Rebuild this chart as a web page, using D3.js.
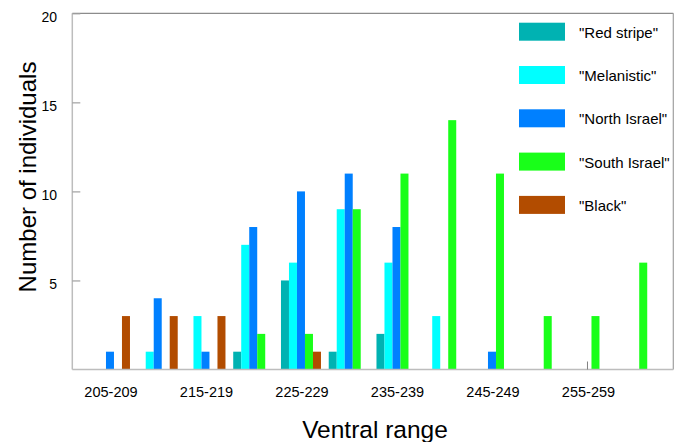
<!DOCTYPE html>
<html>
<head>
<meta charset="utf-8">
<script src="https://cdn.jsdelivr.net/npm/d3@7"></script>
<style>
	body { margin: 0; background: #FFFFFF; }
	text { font-family: "Liberation Sans", Arial, Helvetica, sans-serif; fill: #000000; }
</style>
</head>
<body>
<svg id="svgarea" width="681" height="442"></svg>
<script>
// ventral scale ranges (x categories)
const categories	= ['205-209', '210-214', '215-219', '220-224', '225-229', '230-234',
					   '235-239', '240-244', '245-249', '250-254', '255-259', '260-264'];
const seriesNames	= ['"Red stripe"', '"Melanistic"', '"North Israel"', '"South Israel"', '"Black"'];
const redStripe		= [0, 0, 0, 1, 5, 1, 2, 0, 0, 0, 0, 0];
const melanistic	= [0, 1, 3, 7, 6, 9, 6, 3, 0, 0, 0, 0];
const northIsrael	= [1, 4, 1, 8, 10, 11, 8, 0, 1, 0, 0, 0];
const southIsrael	= [0, 0, 0, 2, 2, 9, 11, 14, 11, 3, 3, 6];
const black			= [3, 3, 3, 0, 1, 0, 0, 0, 0, 0, 0, 0];
const xTickLabels	= ['205-209', '215-219', '225-229', '235-239', '245-249', '255-259'];
const yTicks		= [5, 10, 15, 20];
const colors		= ['#00B2B2', '#00FFFF', '#0080FF', '#19FF19', '#B24C00'];

var seriesValues	= [redStripe, melanistic, northIsrael, southIsrael, black];
var svg				= d3.select('#svgarea');
var left			= 72.3;
var right			= 673.3;
var top_			= 13.3;
var bottom			= 369.5;

var x = d3.scaleBand().
	domain(categories).
	range([86.1, 659.1]).
	paddingInner(0.1623).
	paddingOuter(0.0811);
var xs = d3.scaleBand().
	domain(seriesNames).
	range([0, x.bandwidth()]);
var y = d3.scaleLinear().
	domain([0, 20]).
	range([bottom, top_]);

/**
 * Draws the frame, ticks and tick labels
 */
function drawAxes(){
	// frame: top and right darker, left and bottom lighter
	svg.append('line').attr('x1', left).attr('y1', top_).attr('x2', right).attr('y2', top_).
		attr('stroke', '#8C8C8C').attr('stroke-width', 1.2);
	svg.append('line').attr('x1', right).attr('y1', top_).attr('x2', right).attr('y2', bottom).
		attr('stroke', '#A0A0A0').attr('stroke-width', 1.2);
	svg.append('line').attr('x1', left).attr('y1', top_).attr('x2', left).attr('y2', bottom).
		attr('stroke', '#BDBDBD').attr('stroke-width', 1.5);
	svg.append('line').attr('x1', left).attr('y1', bottom).attr('x2', right).attr('y2', bottom).
		attr('stroke', '#BDBDBD').attr('stroke-width', 1.5);

	// y ticks point inwards
	var yAxis = svg.append('g').attr('transform', 'translate(' + left + ',0)').
		call(d3.axisRight(y).tickValues(yTicks).tickSize(8).tickFormat(''));
	yAxis.select('.domain').remove();
	yAxis.selectAll('line').attr('stroke', '#A0A0A0').attr('stroke-width', 1.2);
	svg.append('g').selectAll('text').data(yTicks).join('text').
		attr('x', 57).
		attr('y', function(d){ return y(d) + 8.5; }).
		attr('text-anchor', 'end').
		attr('font-size', '14px').
		text(function(d){ return d; });

	// x labels, every second range
	svg.append('g').selectAll('text').data(xTickLabels).join('text').
		attr('x', function(d){ return x(d) + x.bandwidth() / 2 + 1; }).
		attr('y', 396.5).
		attr('text-anchor', 'middle').
		attr('font-size', '14.5px').
		text(function(d){ return d; });
	// lone tick seen on the original
	svg.append('line').
		attr('x1', x('255-259') + x.bandwidth() / 2).attr('x2', x('255-259') + x.bandwidth() / 2).
		attr('y1', bottom - 8).attr('y2', bottom).
		attr('stroke', '#808080').attr('stroke-width', 1);

	// titles
	svg.append('text').
		attr('x', 375).attr('y', 437.5).
		attr('text-anchor', 'middle').
		attr('font-size', '24.5px').
		text('Ventral range');
	svg.append('text').
		attr('transform', 'translate(36,177) rotate(-90)').
		attr('text-anchor', 'middle').
		attr('font-size', '24px').
		text('Number of individuals');
}

/**
 * Draws the grouped bars
 */
function drawBars(){
	var groups = svg.append('g').selectAll('g').data(seriesValues).join('g').
		attr('fill', function(d, i){ return colors[i]; });
	groups.each(function(values, i){
		d3.select(this).selectAll('rect').
			data(values.map(function(v, j){ return {cat: categories[j], v: v}; }).filter(function(d){ return d.v > 0; })).
			join('rect').
			attr('x', function(d){ return x(d.cat) + xs(seriesNames[i]); }).
			attr('y', function(d){ return y(d.v); }).
			attr('width', xs.bandwidth()).
			attr('height', function(d){ return y(0) - y(d.v); });
	});
}

/**
 * Draws the legend in the top right corner
 */
function drawLegend(){
	var item = svg.append('g').selectAll('g').data(seriesNames).join('g').
		attr('transform', function(d, i){ return 'translate(519,' + (22.7 + i * 43.3) + ')'; });
	item.append('rect').
		attr('width', 46).attr('height', 18).
		attr('fill', function(d, i){ return colors[i]; });
	item.append('text').
		attr('x', 60).attr('y', 15).
		attr('font-size', '15px').
		text(function(d){ return d; });
}

drawBars();
drawAxes();
drawLegend();
</script>
</body>
</html>
